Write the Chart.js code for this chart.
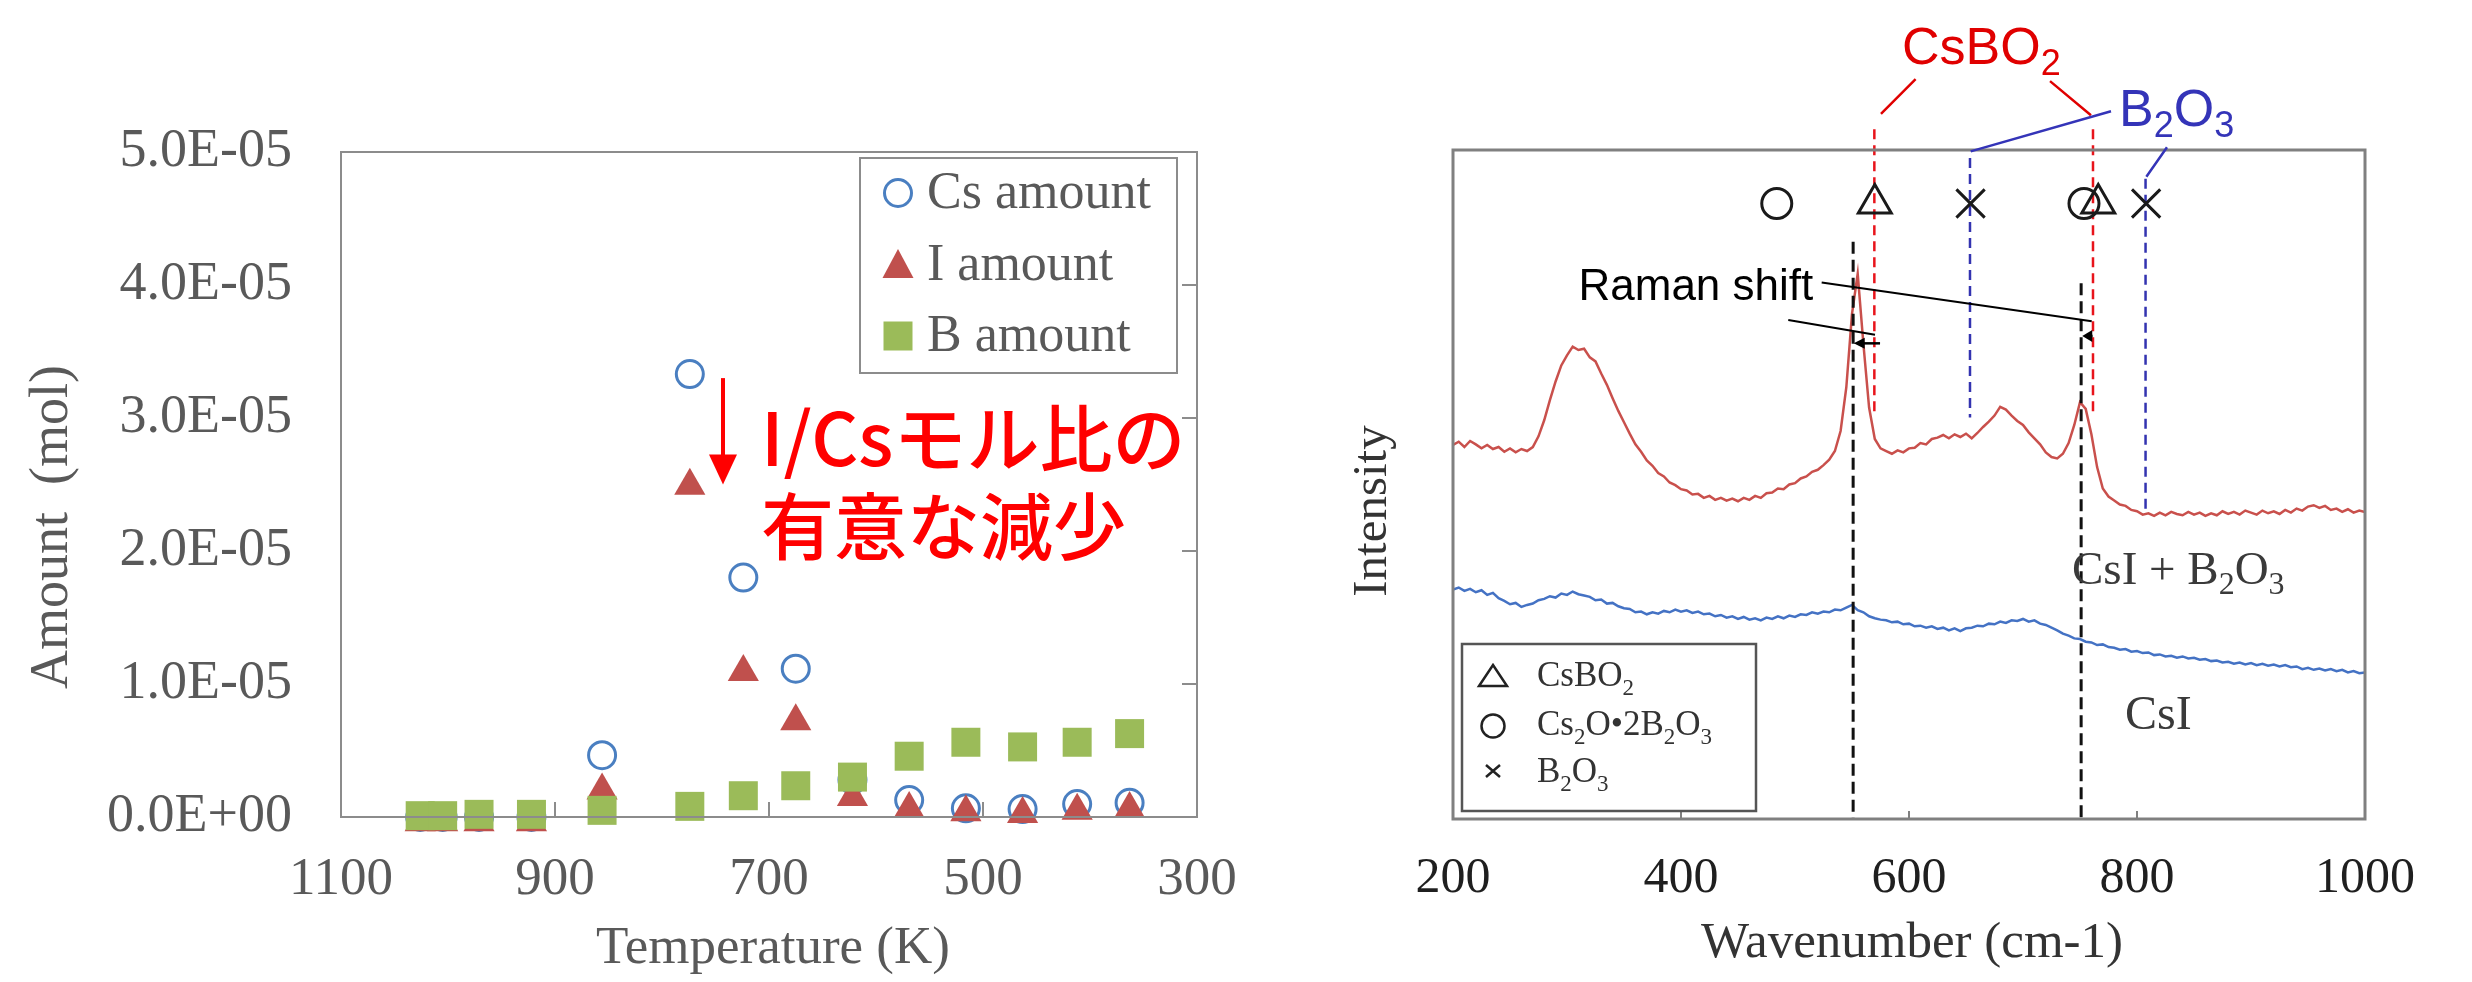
<!DOCTYPE html>
<html>
<head>
<meta charset="utf-8">
<script src="https://cdn.jsdelivr.net/npm/chart.js@4.4.1/dist/chart.umd.min.js"></script>
<style>
  html, body { margin: 0; padding: 0; background: #fff; overflow: hidden; }
  canvas { position: absolute; top: 0; }
  #tempChart { left: 0; }
  #ramanChart { left: 1236px; }
</style>
</head>
<body>
<canvas id="tempChart" width="1236" height="982"></canvas>
<canvas id="ramanChart" width="1236" height="982"></canvas>
<script>
// ---- left panel: released amounts vs temperature ----
const temps = [1026, 1005, 971, 922, 856, 774, 724, 675, 622, 569, 516, 463, 412, 363];
const csAmount = [0, 0, 0, 0, 4.65e-6, 3.33e-5, 1.80e-5, 1.115e-5, 2.8e-6, 1.27e-6, 6.5e-7, 6.0e-7, 9.7e-7, 1.07e-6];
const iAmount = [-4e-7, -4e-7, -4e-7, -4e-7, 2.0e-6, 2.49e-5, 1.09e-5, 7.2e-6, 1.5e-6, 6e-7, 3.5e-7, 2.3e-7, 4.7e-7, 6e-7];
const bAmount = [1e-7, 1e-7, 2e-7, 2e-7, 5e-7, 8e-7, 1.6e-6, 2.35e-6, 3.0e-6, 4.57e-6, 5.62e-6, 5.27e-6, 5.62e-6, 6.27e-6];
const tempTicks = [1100, 900, 700, 500, 300];
const amountTicks = [0, 1e-5, 2e-5, 3e-5, 4e-5, 5e-5];

// ---- right panel: Raman spectra ----
const wavenumbers = [
  200, 205, 210, 215, 220, 225, 230, 235, 240, 245, 250, 255, 260, 265, 270, 275, 280, 285, 290, 295,
  300, 305, 310, 315, 320, 325, 330, 335, 340, 345, 350, 355, 360, 365, 370, 375, 380, 385, 390, 395,
  400, 405, 410, 415, 420, 425, 430, 435, 440, 445, 450, 455, 460, 465, 470, 475, 480, 485, 490, 495,
  500, 505, 510, 515, 520, 525, 530, 535, 540, 545, 550, 555, 560, 565, 570, 575, 580, 585, 590, 595,
  600, 605, 610, 615, 620, 625, 630, 635, 640, 645, 650, 655, 660, 665, 670, 675, 680, 685, 690, 695,
  700, 705, 710, 715, 720, 725, 730, 735, 740, 745, 750, 755, 760, 765, 770, 775, 780, 785, 790, 795,
  800, 805, 810, 815, 820, 825, 830, 835, 840, 845, 850, 855, 860, 865, 870, 875, 880, 885, 890, 895,
  900, 905, 910, 915, 920, 925, 930, 935, 940, 945, 950, 955, 960, 965, 970, 975, 980, 985, 990, 995,
  1000
];
// CsI + B2O3
const mixSpectrum = [
  55.9, 56.4, 55.6, 56.5, 56.0, 55.4, 55.9, 55.3, 55.6, 54.9,
  55.4, 54.8, 55.3, 55.0, 55.6, 57.2, 59.6, 62.6, 65.4, 67.8,
  69.3, 70.6, 70.1, 70.3, 69.0, 68.4, 66.6, 64.9, 62.9, 61.0,
  59.3, 57.6, 56.0, 54.9, 53.6, 52.8, 51.7, 51.2, 50.3, 49.9,
  49.3, 49.1, 48.5, 48.6, 48.0, 48.3, 47.7, 48.0, 47.6, 47.9,
  47.5, 48.0, 47.7, 48.3, 48.0, 48.7, 48.8, 49.4, 49.3, 50.0,
  50.2, 50.9, 51.2, 51.9, 52.2, 52.9, 53.7, 55.0, 58.0, 64.5,
  75.5, 81.5, 71.0, 61.5, 56.8, 55.4, 55.0, 54.6, 55.1, 54.8,
  55.4, 55.5, 56.2, 56.0, 56.8, 57.0, 57.4, 56.9, 57.5, 57.1,
  57.6, 56.9, 57.7, 58.6, 59.4, 60.3, 61.6, 61.2, 60.3, 59.5,
  58.9, 57.8, 56.9, 56.0, 54.8, 54.1, 53.9, 54.6, 56.2, 58.9,
  62.3, 61.3, 57.5, 52.6, 49.4, 48.2, 47.6, 47.0, 46.8, 46.2,
  46.0, 45.5, 45.7, 45.3, 45.8, 45.4, 45.9, 45.6, 45.4, 45.9,
  45.5, 45.8, 45.3, 45.7, 45.4, 46.0, 45.6, 45.9, 45.5, 46.1,
  45.8, 45.5, 46.1, 45.7, 46.0, 45.6, 46.2, 45.8, 46.4, 46.1,
  46.7, 46.9, 46.5, 46.8, 46.2, 46.4, 45.9, 46.3, 45.8, 46.1,
  45.9
];
// CsI
const csiSpectrum = [
  34.3, 34.6, 34.1, 34.4, 33.9, 34.2, 33.5, 33.8, 33.0, 32.6,
  32.1, 32.3, 31.7, 32.0, 32.2, 32.7, 32.9, 33.3, 33.1, 33.7,
  33.5, 34.0, 33.6, 33.4, 33.2, 32.7, 32.8, 32.2, 32.3, 31.8,
  31.5, 31.4, 30.9, 31.0, 30.6, 30.9, 30.7, 31.1, 30.9, 31.3,
  31.0, 31.2, 30.8, 31.0, 30.6, 30.7, 30.3, 30.5, 30.1, 30.3,
  29.9, 30.2, 29.8, 30.0, 29.7, 30.1, 29.9, 30.3, 30.0, 30.4,
  30.2, 30.6, 30.5, 30.9, 30.7, 31.0, 30.9, 31.3, 31.2, 31.6,
  32.0, 31.2, 30.9, 30.3, 30.0, 29.8, 29.7, 29.4, 29.5, 29.1,
  29.2, 28.8, 28.9, 28.6, 28.8, 28.4, 28.6, 28.2, 28.5, 28.1,
  28.5, 28.6, 28.9, 28.8, 29.2, 29.1, 29.5, 29.3, 29.7, 29.6,
  29.9, 29.5, 29.7, 29.2, 29.0, 28.6, 28.2, 27.7, 27.4, 27.0,
  26.9, 26.5, 26.4, 26.0, 26.1, 25.7, 25.6, 25.3, 25.4, 25.0,
  25.1, 24.8, 24.9, 24.5, 24.6, 24.3, 24.4, 24.1, 24.3, 24.0,
  24.1, 23.8, 23.9, 23.6, 23.7, 23.4, 23.5, 23.2, 23.4, 23.1,
  23.3, 23.0, 23.2, 22.9, 23.1, 22.8, 23.0, 22.7, 22.8, 22.4,
  22.6, 22.3, 22.5, 22.2, 22.4, 22.1, 22.3, 21.9, 22.1, 21.8,
  21.9
];
const wnTicks = [200, 400, 600, 800, 1000];

// reference peak symbols above the spectra
const refPeakWn = [484, 570, 654, 753.5, 766, 808];
const refPeakLevel = [92, 92, 92, 92, 92, 92];
const refPeakPhase = ['Cs2O•2B2O3', 'CsBO2', 'B2O3', 'Cs2O•2B2O3', 'CsBO2', 'B2O3'];

// guide lines (wavenumber, top, bottom in intensity units)
const csbo2Wn = [569.6, 761.4];
const csbo2Top = [103.1, 103.1];
const csbo2Bottom = [60.4, 60.9];
const b2o3Wn = [653.5, 807.5];
const b2o3Top = [98.8, 95.7];
const b2o3Bottom = [60.0, 46.3];
const observedWn = [551, 751];
const observedTop = [86.3, 80.1];
const observedBottom = [0, 0];

const SERIF = '"Liberation Serif", "Times New Roman", serif';
const SANS = '"Liberation Sans", Arial, sans-serif';
const CJK = '"Noto Sans CJK JP", "Noto Sans", sans-serif';

function sciLabel(v) {
  const [m, e] = Number(v).toExponential(1).split('e');
  const n = parseInt(e, 10);
  return m + 'E' + (n < 0 ? '-' : '+') + String(Math.abs(n)).padStart(2, '0');
}

// "B_2O_3" -> B, sub 2, O, sub 3
function drawFormula(ctx, text, x, y, size, subSize, drop, family) {
  let cx = x;
  text.split(/(_\d)/).filter(Boolean).forEach(t => {
    const sub = t[0] === '_';
    const s = sub ? t.slice(1) : t;
    ctx.font = (sub ? subSize : size) + 'px ' + family;
    ctx.fillText(s, cx, y + (sub ? drop : 0));
    cx += ctx.measureText(s).width;
  });
}

function drawArrow(ctx, x1, y1, x2, y2, head, width) {
  const ang = Math.atan2(y2 - y1, x2 - x1);
  ctx.beginPath();
  ctx.moveTo(x1, y1);
  ctx.lineTo(x2 - Math.cos(ang) * head * 0.8, y2 - Math.sin(ang) * head * 0.8);
  ctx.stroke();
  ctx.beginPath();
  ctx.moveTo(x2, y2);
  ctx.lineTo(x2 - Math.cos(ang) * head + Math.sin(ang) * width / 2, y2 - Math.sin(ang) * head - Math.cos(ang) * width / 2);
  ctx.lineTo(x2 - Math.cos(ang) * head - Math.sin(ang) * width / 2, y2 - Math.sin(ang) * head + Math.cos(ang) * width / 2);
  ctx.closePath();
  ctx.fill();
}

// keep the plot box where it is: no extra room for overhanging tick labels
function fixWidth(w) {
  return s => { s.width = w; s.paddingTop = 0; s.paddingBottom = 0; };
}
function fixHeight(h) {
  return s => { s.height = h; s.paddingLeft = 0; s.paddingRight = 0; };
}

const tempDecor = {
  id: 'tempDecor',
  afterDraw(chart) {
    const { ctx, chartArea: a, scales: { x, y } } = chart;
    ctx.save();
    // frame and inner ticks
    ctx.strokeStyle = '#8c8c8c';
    ctx.lineWidth = 2;
    ctx.strokeRect(a.left, a.top, a.right - a.left, a.bottom - a.top);
    ctx.beginPath();
    tempTicks.slice(1, -1).forEach(t => {
      const px = x.getPixelForValue(t);
      ctx.moveTo(px, a.bottom); ctx.lineTo(px, a.bottom - 15);
    });
    amountTicks.slice(1, -1).forEach(v => {
      const py = y.getPixelForValue(v);
      ctx.moveTo(a.right, py); ctx.lineTo(a.right - 15, py);
    });
    ctx.stroke();

    // axis titles
    ctx.fillStyle = '#595959';
    ctx.font = '53px ' + SERIF;
    ctx.textAlign = 'center';
    ctx.textBaseline = 'middle';
    ctx.fillText('Temperature (K)', (a.left + a.right) / 2 + 4, 949);
    ctx.save();
    ctx.translate(53, 527);
    ctx.rotate(-Math.PI / 2);
    ctx.font = '54px ' + SERIF;
    ctx.fillText('Amount  (mol)', 0, 0);
    ctx.restore();

    // legend
    const lx = a.right - 337, ly = a.top + 6;
    ctx.strokeStyle = '#8c8c8c';
    ctx.lineWidth = 2;
    ctx.strokeRect(lx, ly, 317, 215);
    const mx = lx + 38;
    const rows = [ly + 35, ly + 107, ly + 178];
    ctx.strokeStyle = '#4a7fc1';
    ctx.lineWidth = 3;
    ctx.beginPath(); ctx.arc(mx, rows[0], 13.5, 0, Math.PI * 2); ctx.stroke();
    ctx.fillStyle = '#c0504d';
    ctx.beginPath();
    ctx.moveTo(mx, rows[1] - 16); ctx.lineTo(mx + 15.5, rows[1] + 13); ctx.lineTo(mx - 15.5, rows[1] + 13);
    ctx.closePath(); ctx.fill();
    ctx.fillStyle = '#9bbb59';
    ctx.fillRect(mx - 14.5, rows[2] - 14.5, 29, 29);
    ctx.fillStyle = '#595959';
    ctx.font = '52px ' + SERIF;
    ctx.textAlign = 'left';
    ['Cs amount', 'I amount', 'B amount'].forEach((t, i) => ctx.fillText(t, lx + 67, rows[i] + 1));

    // annotation: I/Cs ratio drop
    ctx.strokeStyle = '#ff0000';
    ctx.fillStyle = '#ff0000';
    ctx.lineWidth = 4;
    drawArrow(ctx, x.getPixelForValue(743), y.getPixelForValue(3.30e-5),
      x.getPixelForValue(743), y.getPixelForValue(2.50e-5), 30, 28);
    ctx.font = '500 73px ' + CJK;
    ctx.textBaseline = 'alphabetic';
    ctx.fillText('I/Csモル比の', x.getPixelForValue(707.5), y.getPixelForValue(2.64e-5));
    ctx.fillText('有意な減少', x.getPixelForValue(707.5), y.getPixelForValue(1.98e-5));
    ctx.restore();
  }
};

const ramanDecor = {
  id: 'ramanDecor',
  afterDraw(chart) {
    const { ctx, chartArea: a, scales: { x, y } } = chart;
    const px = v => x.getPixelForValue(v);
    const py = v => y.getPixelForValue(v);
    ctx.save();
    ctx.strokeStyle = '#808080';
    ctx.lineWidth = 3;
    ctx.strokeRect(a.left, a.top, a.right - a.left, a.bottom - a.top);
    ctx.lineWidth = 2;
    ctx.beginPath();
    wnTicks.slice(1, -1).forEach(t => {
      ctx.moveTo(px(t), a.bottom); ctx.lineTo(px(t), a.bottom - 8);
    });
    ctx.stroke();

    // leader lines from the phase labels
    ctx.lineWidth = 2.5;
    ctx.strokeStyle = '#e00000';
    ctx.beginPath();
    ctx.moveTo(px(605.8), py(110.6)); ctx.lineTo(px(575.4), py(105.4));
    ctx.moveTo(px(723.7), py(110.3)); ctx.lineTo(px(759.6), py(105.2));
    ctx.stroke();
    ctx.strokeStyle = '#3434b8';
    ctx.beginPath();
    ctx.moveTo(px(777.2), py(105.8)); ctx.lineTo(px(654.1), py(99.8));
    ctx.moveTo(px(826.3), py(100.4)); ctx.lineTo(px(808.2), py(96.0));
    ctx.stroke();

    ctx.textAlign = 'left';
    ctx.textBaseline = 'alphabetic';
    ctx.fillStyle = '#e00000';
    drawFormula(ctx, 'CsBO_2', px(593.9), py(112.8), 52, 36, 11, SANS);
    ctx.fillStyle = '#3434b8';
    drawFormula(ctx, 'B_2O_3', px(784.2), py(103.6), 52, 36, 11, SANS);

    // Raman shift arrows
    ctx.strokeStyle = '#000';
    ctx.fillStyle = '#000';
    ctx.lineWidth = 2;
    ctx.beginPath();
    ctx.moveTo(px(523.4), py(80.2)); ctx.lineTo(px(760.3), py(74.4));
    ctx.moveTo(px(494.1), py(74.6)); ctx.lineTo(px(570.2), py(72.4));
    ctx.stroke();
    ctx.lineWidth = 2.5;
    drawArrow(ctx, px(574.6), py(71.1), px(551.5), py(71.1), 11, 11);
    drawArrow(ctx, px(761), py(72.2), px(752), py(72.2), 10, 12);
    ctx.font = '44px ' + SANS;
    ctx.textAlign = 'right';
    ctx.textBaseline = 'middle';
    ctx.fillText('Raman shift', px(516), py(79.4));

    // sample labels
    ctx.fillStyle = '#3a3a3a';
    ctx.textAlign = 'left';
    ctx.textBaseline = 'alphabetic';
    drawFormula(ctx, 'CsI + B_2O_3', px(743), py(35.1), 47, 32, 10, SERIF);
    ctx.font = '48px ' + SERIF;
    ctx.fillText('CsI', px(789.5), py(13.4));

    // axis titles
    ctx.fillStyle = '#333';
    ctx.font = '51px ' + SERIF;
    ctx.textAlign = 'center';
    ctx.textBaseline = 'middle';
    ctx.fillText('Wavenumber (cm-1)', (a.left + a.right) / 2 + 3, 944);
    ctx.save();
    ctx.translate(137, 511);
    ctx.rotate(-Math.PI / 2);
    ctx.font = '49px ' + SERIF;
    ctx.fillText('Intensity', 0, 0);
    ctx.restore();

    // symbol legend
    const lx = a.left + 9, ly = a.bottom - 175;
    ctx.strokeStyle = '#555';
    ctx.lineWidth = 2.5;
    ctx.strokeRect(lx, ly, 294, 167);
    const mx = lx + 31;
    const rows = [ly + 33, ly + 82, ly + 127];
    ctx.strokeStyle = '#222';
    ctx.lineWidth = 2.5;
    ctx.beginPath();
    ctx.moveTo(mx, rows[0] - 12); ctx.lineTo(mx + 14, rows[0] + 9); ctx.lineTo(mx - 14, rows[0] + 9);
    ctx.closePath(); ctx.stroke();
    ctx.beginPath(); ctx.arc(mx, rows[1], 11.5, 0, Math.PI * 2); ctx.stroke();
    ctx.beginPath();
    ctx.moveTo(mx - 7, rows[2] - 6); ctx.lineTo(mx + 7, rows[2] + 6);
    ctx.moveTo(mx + 7, rows[2] - 6); ctx.lineTo(mx - 7, rows[2] + 6);
    ctx.stroke();
    ctx.fillStyle = '#333';
    ctx.textAlign = 'left';
    ctx.textBaseline = 'alphabetic';
    drawFormula(ctx, 'CsBO_2', lx + 75, rows[0] + 9, 35, 23, 9, SERIF);
    drawFormula(ctx, 'Cs_2O•2B_2O_3', lx + 75, rows[1] + 9, 35, 23, 9, SERIF);
    drawFormula(ctx, 'B_2O_3', lx + 75, rows[2] + 11, 35, 23, 9, SERIF);
    ctx.restore();
  }
};

function buildCharts() {
  new Chart(document.getElementById('tempChart'), {
    type: 'scatter',
    data: {
      datasets: [
        {
          label: 'Cs amount',
          data: temps.map((t, i) => ({ x: t, y: csAmount[i] })),
          pointStyle: 'circle', pointRadius: 13.5, borderWidth: 3,
          borderColor: '#4a7fc1', backgroundColor: 'rgba(0,0,0,0)',
          clip: false, order: 3
        },
        {
          label: 'I amount',
          data: temps.map((t, i) => ({ x: t, y: iAmount[i] })),
          pointStyle: 'triangle', pointRadius: 18, borderWidth: 0,
          borderColor: '#c0504d', backgroundColor: '#c0504d',
          clip: false, order: 2
        },
        {
          label: 'B amount',
          data: temps.map((t, i) => ({ x: t, y: bAmount[i] })),
          pointStyle: 'rect', pointRadius: 20.5, borderWidth: 0,
          borderColor: '#9bbb59', backgroundColor: '#9bbb59',
          clip: false, order: 1
        }
      ]
    },
    options: {
      responsive: false,
      animation: false,
      events: [],
      layout: { padding: { left: 0, right: 39, top: 152, bottom: 0 } },
      plugins: { legend: { display: false }, tooltip: { enabled: false } },
      scales: {
        x: {
          type: 'linear', reverse: true, min: 300, max: 1100,
          grid: { display: false, drawTicks: false }, border: { display: false },
          ticks: { stepSize: 200, maxRotation: 0, padding: 31, color: '#595959', font: { family: SERIF, size: 53 }, callback: v => String(v) },
          afterFit: fixHeight(165)
        },
        y: {
          min: 0, max: 5e-5,
          grid: { display: false, drawTicks: false }, border: { display: false },
          ticks: { stepSize: 1e-5, padding: 49, color: '#595959', font: { family: SERIF, size: 54 }, callback: v => sciLabel(v) },
          afterFit: fixWidth(341)
        }
      }
    },
    plugins: [tempDecor]
  });

  const guide = (xs, tops, bottoms, color, width, dash) => xs.map((w, i) => ({
    data: [{ x: w, y: tops[i] }, { x: w, y: bottoms[i] }],
    showLine: true, pointRadius: 0, borderColor: color, borderWidth: width,
    borderDash: dash, clip: false, order: 2
  }));

  const phaseStyle = { 'Cs2O•2B2O3': 'circle', 'CsBO2': 'triangle', 'B2O3': 'crossRot' };
  const phaseRadius = { 'Cs2O•2B2O3': 15, 'CsBO2': 19, 'B2O3': 20 };

  new Chart(document.getElementById('ramanChart'), {
    type: 'scatter',
    data: {
      datasets: [
        {
          label: 'CsI + B2O3',
          data: wavenumbers.map((w, i) => ({ x: w, y: mixSpectrum[i] })),
          showLine: true, pointRadius: 0, borderColor: '#c9504c', borderWidth: 2.5, order: 5
        },
        {
          label: 'CsI',
          data: wavenumbers.map((w, i) => ({ x: w, y: csiSpectrum[i] })),
          showLine: true, pointRadius: 0, borderColor: '#4472c4', borderWidth: 2.5, order: 5
        },
        ...guide(csbo2Wn, csbo2Top, csbo2Bottom, '#e8141b', 2.5, [10, 6]),
        ...guide(b2o3Wn, b2o3Top, b2o3Bottom, '#3333b0', 2.5, [10, 6]),
        ...guide(observedWn, observedTop, observedBottom, '#111', 3, [12, 6]),
        {
          label: 'reference peaks',
          data: refPeakWn.map((w, i) => ({ x: w, y: refPeakLevel[i] })),
          pointStyle: refPeakPhase.map(p => phaseStyle[p]),
          pointRadius: refPeakPhase.map(p => phaseRadius[p]),
          borderColor: '#1a1a1a', backgroundColor: 'rgba(0,0,0,0)', borderWidth: 3,
          clip: false, order: 1
        }
      ]
    },
    options: {
      responsive: false,
      animation: false,
      events: [],
      layout: { padding: { left: 0, right: 107, top: 150, bottom: 0 } },
      plugins: { legend: { display: false }, tooltip: { enabled: false } },
      scales: {
        x: {
          type: 'linear', min: 200, max: 1000,
          grid: { display: false, drawTicks: false }, border: { display: false },
          ticks: { stepSize: 200, maxRotation: 0, padding: 30, color: '#1f1f1f', font: { family: SERIF, size: 50 }, callback: v => String(v) },
          afterFit: fixHeight(163)
        },
        y: {
          min: 0, max: 100,
          grid: { display: false, drawTicks: false }, border: { display: false },
          ticks: { display: false },
          afterFit: fixWidth(217)
        }
      }
    },
    plugins: [ramanDecor]
  });
}

Promise.all([
  document.fonts.load('52px "Liberation Serif"'),
  document.fonts.load('44px "Liberation Sans"'),
  document.fonts.load('73px "Noto Sans CJK JP"')
]).then(buildCharts, buildCharts);
</script>
</body>
</html>
